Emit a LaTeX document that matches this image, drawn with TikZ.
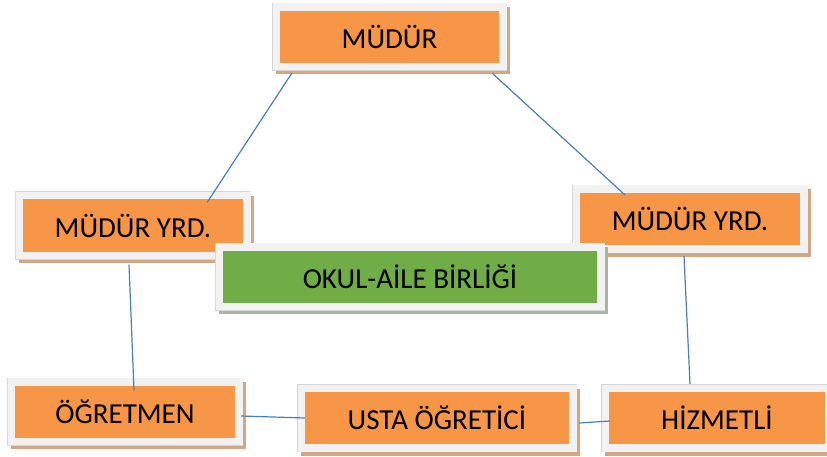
\documentclass[tikz,border=0pt]{standalone}
\usepackage{fontspec}
\setmainfont{Carlito}
\definecolor{orng}{HTML}{F79646}
\definecolor{shorng}{HTML}{D4A784}
\definecolor{grn}{HTML}{70AD47}
\definecolor{shgrn}{HTML}{A7B79B}
\definecolor{frm}{HTML}{F2F2F2}
\definecolor{frmline}{HTML}{D6D6D6}
\definecolor{lnk}{HTML}{4A7EBB}
\begin{document}
\begin{tikzpicture}[x=1pt,y=-1pt,
 orgbox/.style={minimum width=#1,minimum height=52pt,inner sep=0pt,fill=orng,
  font=\fontsize{29}{33}\selectfont,
  preaction={draw=shorng,fill=shorng,line width=15pt,transform canvas={xshift=3pt,yshift=-4pt}},
  preaction={draw=frmline,line width=16pt},
  preaction={draw=frm,line width=15pt}},
 grnbox/.style={orgbox=#1,fill=grn,
  preaction={draw=shgrn,fill=shgrn,line width=15pt,transform canvas={xshift=3pt,yshift=-4pt}},
  preaction={draw=frmline,line width=16pt},
  preaction={draw=frm,line width=15pt}},
 link/.style={draw=lnk,line width=1.2pt}]
 \clip (0,0) rectangle (827,457);
 \fill[white] (0,0) rectangle (827,457);
 \node[orgbox=219pt] (mudur) at (389.5,37) {MÜDÜR};
 \node[orgbox=220pt] (yrdl) at (133,225.5) {MÜDÜR YRD.};
 \node[orgbox=220pt] (yrdr) at (690,219) {MÜDÜR YRD.};
 \node[grnbox=374pt] (okul) at (410,276.5) {OKUL-AİLE BİRLİĞİ};
 \node[orgbox=220pt] (ogretmen) at (125,411.5) {ÖĞRETMEN};
 \node[orgbox=264pt] (usta) at (437,418) {USTA ÖĞRETİCİ};
 \node[orgbox=216pt] (hizmetli) at (717,418) {HİZMETLİ};
 \draw[link] ([shift={(12,10)}]mudur.south west) -- ([shift={(-36,3)}]yrdl.north east);
 \draw[link] ([shift={(-7,10)}]mudur.south east) -- ([shift={(45,2)}]yrdr.north west);
 \draw[link] ([shift={(-4,13)}]yrdl.south) -- ([shift={(9,5)}]ogretmen.north);
 \draw[link] ([shift={(-6,11)}]yrdr.south) -- ([shift={(-27,-8)}]hizmetli.north);
 \draw[link] ([shift={(6,4.5)}]ogretmen.east) -- (usta.west);
 \draw[link] ([shift={(10,5)}]usta.east) -- ([shift={(1,3)}]hizmetli.west);
\end{tikzpicture}
\end{document}
